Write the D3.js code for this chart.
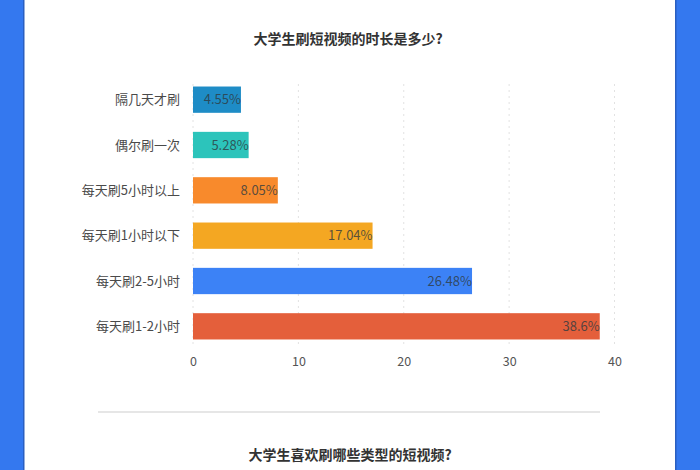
<!DOCTYPE html>
<html><head><meta charset="utf-8">
<script src="https://cdn.jsdelivr.net/npm/d3@7"></script>
<style>
html,body{margin:0;padding:0;background:#fff;}
svg{display:block;font-family:"Noto Sans CJK SC","Noto Sans",sans-serif;}
</style></head>
<body>
<svg id="chart" width="700" height="470"></svg>
<script>
const categories = ["隔几天才刷","偶尔刷一次","每天刷5小时以上","每天刷1小时以下","每天刷2-5小时","每天刷1-2小时"];
const values = [4.55, 5.28, 8.05, 17.04, 26.48, 38.6];
const valueLabels = ["4.55%","5.28%","8.05%","17.04%","26.48%","38.6%"];
const colors = ["#1e8cc6","#2cc4bb","#f88a2c","#f4a722","#3c82f6","#e45f3b"];
const xTicks = [0,10,20,30,40];
const title1 = "大学生刷短视频的时长是多少?";
const title2 = "大学生喜欢刷哪些类型的短视频?";

const svg = d3.select("#chart");
// blue side borders
svg.append("rect").attr("x",0).attr("y",0).attr("width",23).attr("height",470).attr("fill","#3478ef");
svg.append("rect").attr("x",23).attr("y",0).attr("width",1.5).attr("height",470).attr("fill","#2a5fc0");
svg.append("rect").attr("x",675).attr("y",0).attr("width",25).attr("height",470).attr("fill","#3478ef");
svg.append("rect").attr("x",675).attr("y",0).attr("width",1.5).attr("height",470).attr("fill","#2a5fc0");

svg.append("text").attr("x",348).attr("y",44).attr("text-anchor","middle")
  .attr("font-size",14).attr("font-weight","bold").attr("fill","#333").text(title1);

const x = d3.scaleLinear().domain([0,40]).range([193,614.5]);
const y = d3.scaleBand().domain(categories).range([77,349]).paddingInner(0.42).paddingOuter(0.21);

// grid
const g = svg.append("g");
g.selectAll("line.grid").data(xTicks).join("line")
  .attr("x1",d=>x(d)).attr("x2",d=>x(d)).attr("y1",84).attr("y2",346)
  .attr("stroke","#e2e2e2").attr("stroke-dasharray","2,4").attr("stroke-width",1);

// bars
g.selectAll("rect.bar").data(values).join("rect")
  .attr("x",x(0)).attr("y",(d,i)=>y(categories[i]))
  .attr("width",d=>x(d)-x(0)).attr("height",y.bandwidth())
  .attr("fill",(d,i)=>colors[i]);

g.selectAll("text.val").data(values).join("text")
  .attr("x",d=>x(d)).attr("y",(d,i)=>y(categories[i])+y.bandwidth()/2)
  .attr("dy","0.35em").attr("text-anchor","end").attr("font-size",13)
  .attr("fill","#2f3a40").attr("fill-opacity",0.8).text((d,i)=>valueLabels[i]);

// y axis labels
g.selectAll("text.cat").data(categories).join("text")
  .attr("x",180).attr("y",d=>y(d)+y.bandwidth()/2).attr("dy","0.35em")
  .attr("text-anchor","end").attr("font-size",13).attr("fill","#4a4a4a").text(d=>d);

// x axis
const xAxis = d3.axisBottom(x).tickValues(xTicks).tickSize(0).tickPadding(0);
const ax = svg.append("g").attr("transform","translate(0,357)").call(xAxis);
ax.select(".domain").remove();
ax.selectAll("text").attr("font-size",12.5).attr("fill","#555").attr("font-family","'Noto Sans CJK SC','Noto Sans',sans-serif");

// separator
svg.append("line").attr("x1",98).attr("x2",600).attr("y1",412).attr("y2",412)
  .attr("stroke","#e6e6e6").attr("stroke-width",2);

svg.append("text").attr("x",350).attr("y",460).attr("text-anchor","middle")
  .attr("font-size",14).attr("font-weight","bold").attr("fill","#333").text(title2);
</script>
</body></html>
